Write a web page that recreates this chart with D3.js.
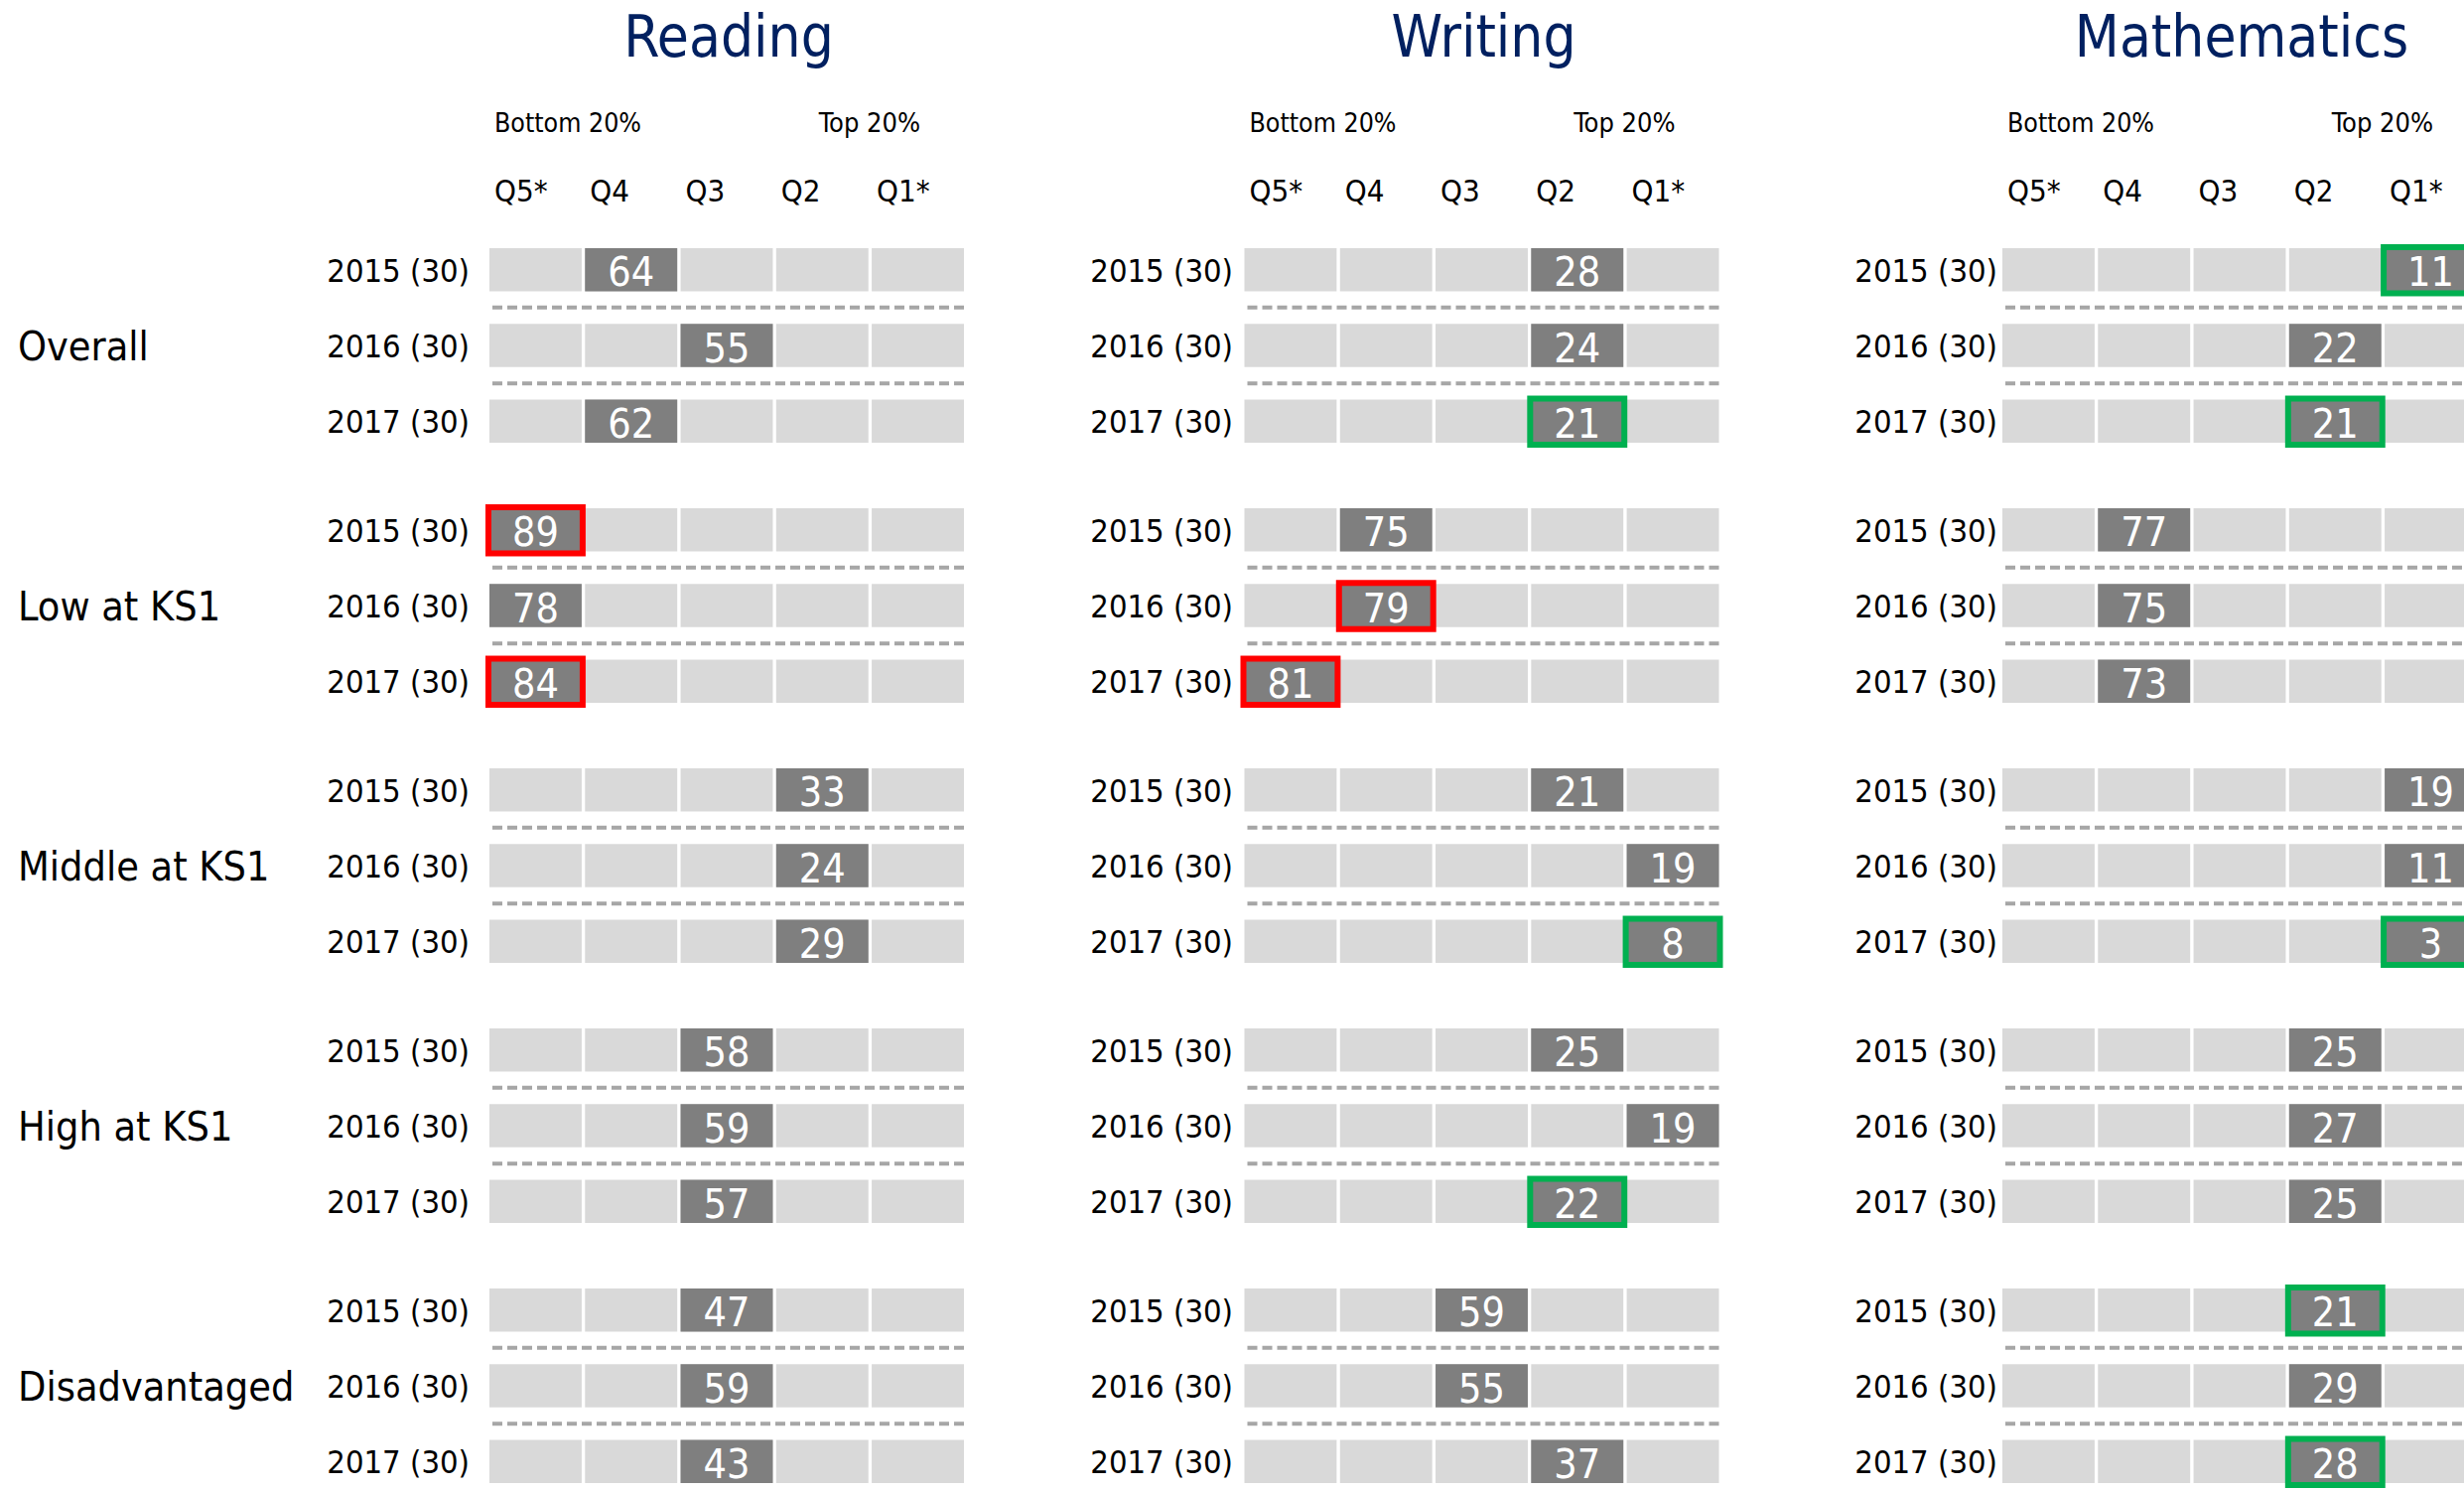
<!DOCTYPE html>
<html>
<head>
<meta charset="utf-8">
<script src="https://cdn.jsdelivr.net/npm/d3@7"></script>
<style>
  html, body { margin: 0; padding: 0; background: #ffffff; }
  svg { display: block; }
  text { font-family: 'DejaVu Sans Condensed', 'DejaVu Sans', sans-serif; font-stretch: condensed; }
</style>
</head>
<body>
<script>
// ---------- data ----------
const subjects  = ["Reading", "Writing", "Mathematics"];
const groups    = ["Overall", "Low at KS1", "Middle at KS1", "High at KS1", "Disadvantaged"];
const years     = ["2015 (30)", "2016 (30)", "2017 (30)"];
const quintiles = ["Q5*", "Q4", "Q3", "Q2", "Q1*"];
const bandLabels = ["Bottom 20%", "Top 20%"];

// value per group (rows) x year (cols)
const readingValues = [[64, 55, 62], [89, 78, 84], [33, 24, 29], [58, 59, 57], [47, 59, 43]];
const writingValues = [[28, 24, 21], [75, 79, 81], [21, 19, 8], [25, 19, 22], [59, 55, 37]];
const mathsValues   = [[11, 22, 21], [77, 75, 73], [19, 11, 3], [25, 27, 25], [21, 29, 28]];

// quintile column in which each value sits
const readingQuintile = [["Q4","Q3","Q4"], ["Q5*","Q5*","Q5*"], ["Q2","Q2","Q2"], ["Q3","Q3","Q3"], ["Q3","Q3","Q3"]];
const writingQuintile = [["Q2","Q2","Q2"], ["Q4","Q4","Q5*"], ["Q2","Q1*","Q1*"], ["Q2","Q1*","Q2"], ["Q3","Q3","Q2"]];
const mathsQuintile   = [["Q1*","Q2","Q2"], ["Q4","Q4","Q4"], ["Q1*","Q1*","Q1*"], ["Q2","Q2","Q2"], ["Q2","Q2","Q2"]];

// significance flag: "low" (red box), "high" (green box), "" none
const readingFlags = [["","",""], ["low","","low"], ["","",""], ["","",""], ["","",""]];
const writingFlags = [["","","high"], ["","low","low"], ["","","high"], ["","","high"], ["","",""]];
const mathsFlags   = [["high","","high"], ["","",""], ["","","high"], ["","",""], ["high","","high"]];

const valuesBySubject   = [readingValues, writingValues, mathsValues];
const quintileBySubject = [readingQuintile, writingQuintile, mathsQuintile];
const flagsBySubject    = [readingFlags, writingFlags, mathsFlags];

// ---------- layout / style ----------
const W = 2482, H = 1501;
const panelLeft  = [493, 1253.5, 2017];
const labelRight = [473, 1242, 2012];
const gridWidth  = 478;
const colors = {
  cell: "#d9d9d9", dark: "#7f7f7f", dash: "#a6a6a6",
  low: "#ff0000", high: "#00b050", title: "#002060", text: "#000000"
};

const svg = d3.select("body").append("svg")
  .attr("width", W).attr("height", H)
  .attr("viewBox", `0 0 ${W} ${H}`);
svg.append("rect").attr("width", W).attr("height", H).attr("fill", "#fff");

// vertical scales
const yGroup = d3.scaleBand().domain(groups).range([250, 250 + 262 * groups.length]).paddingInner(0).paddingOuter(0);
const yYear  = d3.scaleBand().domain(years).range([0, 196]).paddingInner(0.43).paddingOuter(0);
const rowTop = (g, y) => yGroup(g) + yYear(y);
const cellH = yYear.bandwidth();

// group labels
svg.append("g").selectAll("text").data(groups).join("text")
  .attr("x", 18)
  .attr("y", g => rowTop(g, years[1]) + cellH / 2 + 15)
  .attr("font-size", 41)
  .attr("fill", colors.text)
  .text(g => g);

subjects.forEach((subj, si) => {
  const x = d3.scaleBand().domain(quintiles)
    .range([panelLeft[si], panelLeft[si] + gridWidth])
    .paddingInner(0.035).paddingOuter(0);
  const p = svg.append("g");

  // title
  p.append("text")
    .attr("x", panelLeft[si] + gridWidth / 2 + 2)
    .attr("y", 57)
    .attr("text-anchor", "middle")
    .attr("font-size", 58)
    .attr("fill", colors.title)
    .text(subj);

  // Bottom / Top 20%
  p.append("text").attr("x", x("Q5*") + 5).attr("y", 133)
    .attr("font-size", 26.5).attr("fill", colors.text).text(bandLabels[0]);
  p.append("text").attr("x", x("Q2") + 43).attr("y", 133)
    .attr("font-size", 27).attr("fill", colors.text).text(bandLabels[1]);

  // quintile header
  p.append("g").selectAll("text").data(quintiles).join("text")
    .attr("x", q => x(q) + 5)
    .attr("y", 203)
    .attr("font-size", 31)
    .attr("fill", colors.text)
    .text(q => q);

  groups.forEach((g, gi) => {
    years.forEach((yr, yi) => {
      const top = rowTop(g, yr);
      // row label
      p.append("text")
        .attr("x", labelRight[si])
        .attr("y", top + cellH / 2 + 12)
        .attr("text-anchor", "end")
        .attr("font-size", 32.5)
        .attr("fill", colors.text)
        .text(yr);

      // background cells
      p.append("g").selectAll("rect").data(quintiles).join("rect")
        .attr("x", q => x(q))
        .attr("y", top)
        .attr("width", x.bandwidth())
        .attr("height", cellH)
        .attr("fill", colors.cell);

      // dashed separator
      if (yi < years.length - 1) {
        const yDash = top + cellH + (yYear.step() - cellH) / 2;
        p.append("line")
          .attr("x1", panelLeft[si] + 3)
          .attr("x2", panelLeft[si] + gridWidth)
          .attr("y1", yDash).attr("y2", yDash)
          .attr("stroke", colors.dash)
          .attr("stroke-width", 4)
          .attr("stroke-dasharray", "10,5");
      }

      // value cell
      const v = valuesBySubject[si][gi][yi];
      const q = quintileBySubject[si][gi][yi];
      const f = flagsBySubject[si][gi][yi];
      p.append("rect")
        .attr("x", x(q)).attr("y", top)
        .attr("width", x.bandwidth()).attr("height", cellH)
        .attr("fill", colors.dark);
      p.append("text")
        .attr("x", x(q) + x.bandwidth() / 2)
        .attr("y", top + cellH - 5)
        .attr("text-anchor", "middle")
        .attr("font-size", 41)
        .attr("fill", "#ffffff")
        .text(v);
      if (f) {
        p.append("rect")
          .attr("x", x(q) - 1).attr("y", top - 1)
          .attr("width", x.bandwidth() + 2).attr("height", cellH + 3)
          .attr("fill", "none")
          .attr("stroke", f === "low" ? colors.low : colors.high)
          .attr("stroke-width", 6);
      }
    });
  });
});
</script>
</body>
</html>
